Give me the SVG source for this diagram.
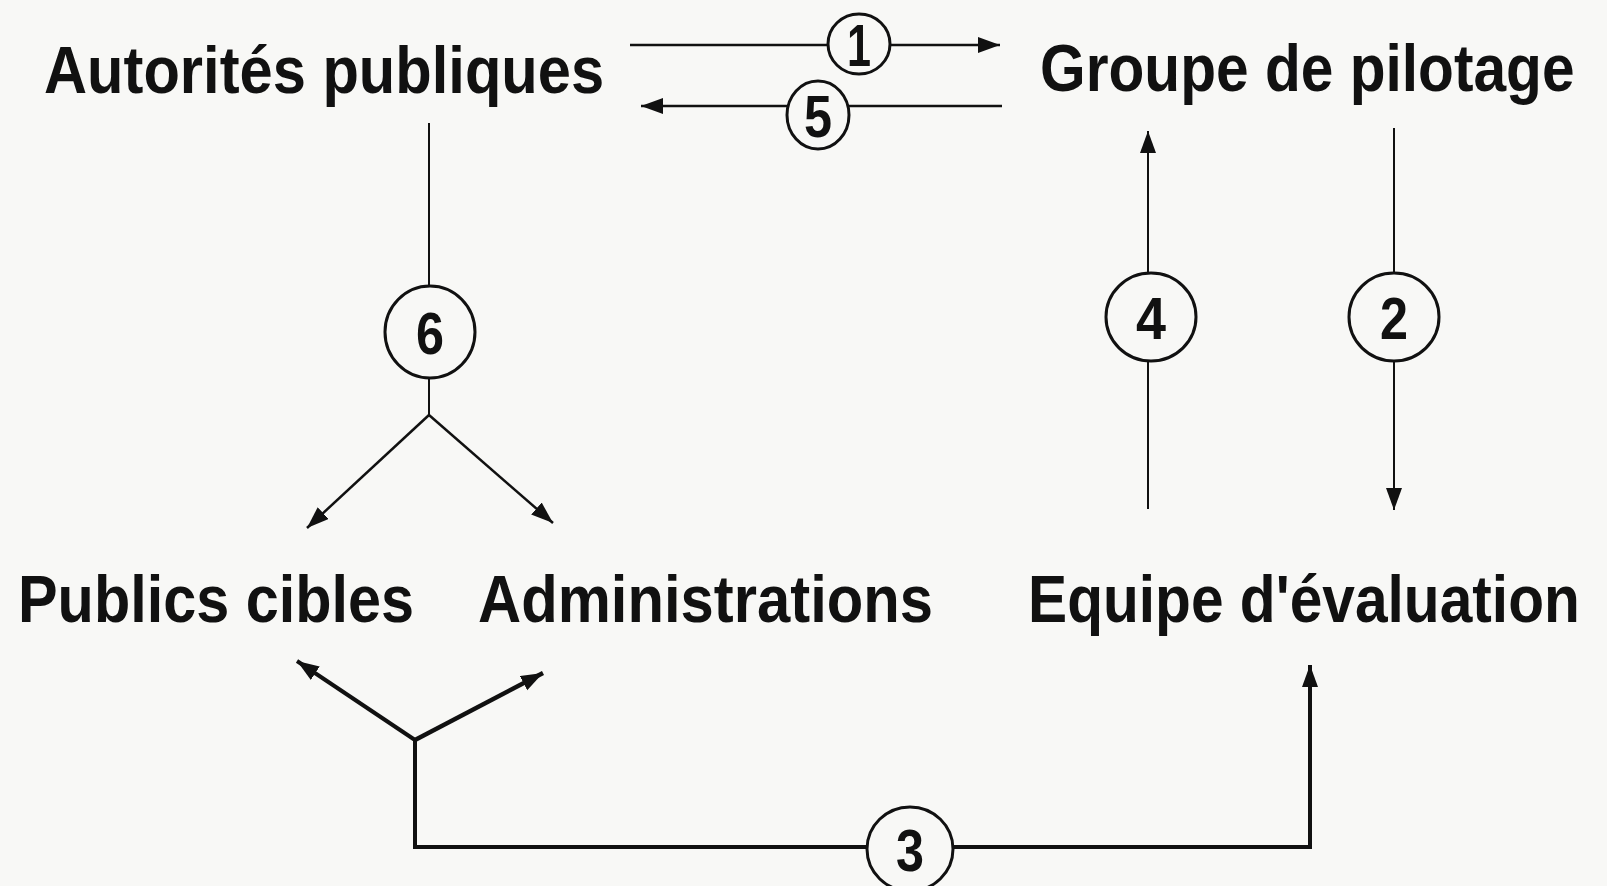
<svg xmlns="http://www.w3.org/2000/svg" width="1607" height="886" viewBox="0 0 1607 886">
<style>
.lbl{font-family:"Liberation Sans",Arial,sans-serif;font-weight:bold;font-size:66px;fill:#111}
.num{font-family:"Liberation Sans",Arial,sans-serif;font-weight:bold;font-size:60px;fill:#111;text-anchor:middle}
.c{fill:#f8f8f6;stroke:#111;stroke-width:3}
.ln{fill:none;stroke:#111;stroke-linecap:butt}
</style>
<defs>
<marker id="ah" markerUnits="userSpaceOnUse" markerWidth="24" markerHeight="18" refX="22" refY="8" orient="auto">
<path d="M0,0 L22,8 L0,16 z" fill="#111"/>
</marker>
</defs>
<rect width="1607" height="886" fill="#f8f8f6"/>
<g id="connectors">
<line class="ln" x1="630" y1="45" x2="1000" y2="45" stroke-width="2.5" marker-end="url(#ah)"/>
<line class="ln" x1="1002" y1="106" x2="641" y2="106" stroke-width="2.5" marker-end="url(#ah)"/>
<line class="ln" x1="429" y1="123" x2="429" y2="415" stroke-width="2"/>
<line class="ln" x1="429" y1="415" x2="307" y2="528" stroke-width="2.5" marker-end="url(#ah)"/>
<line class="ln" x1="429" y1="415" x2="553" y2="523" stroke-width="2.5" marker-end="url(#ah)"/>
<line class="ln" x1="1148" y1="509" x2="1148" y2="131" stroke-width="2" marker-end="url(#ah)"/>
<line class="ln" x1="1394" y1="128" x2="1394" y2="510" stroke-width="2" marker-end="url(#ah)"/>
<path class="ln" d="M415,740 V847 H1310 V665" stroke-width="4" marker-end="url(#ah)"/>
<line class="ln" x1="415" y1="740" x2="297" y2="661" stroke-width="4" marker-end="url(#ah)"/>
<line class="ln" x1="415" y1="740" x2="543" y2="673" stroke-width="4.5" marker-end="url(#ah)"/>
<g id="badges">
<ellipse class="c" cx="859" cy="44" rx="31" ry="30"/><text class="num" x="859" y="66" textLength="24" lengthAdjust="spacingAndGlyphs">1</text>
<ellipse class="c" cx="818" cy="115" rx="31" ry="34"/><text class="num" x="818" y="137" textLength="28" lengthAdjust="spacingAndGlyphs">5</text>
<ellipse class="c" cx="430" cy="332" rx="45" ry="46"/><text class="num" x="430" y="354" textLength="28" lengthAdjust="spacingAndGlyphs">6</text>
<ellipse class="c" cx="1151" cy="317" rx="45" ry="44"/><text class="num" x="1151" y="339" textLength="30" lengthAdjust="spacingAndGlyphs">4</text>
<ellipse class="c" cx="1394" cy="317" rx="45" ry="44"/><text class="num" x="1394" y="339" textLength="28" lengthAdjust="spacingAndGlyphs">2</text>
<ellipse class="c" cx="910" cy="849" rx="43" ry="42"/><text class="num" x="910" y="871" textLength="28" lengthAdjust="spacingAndGlyphs">3</text>
</g>
</g>
<g id="autorites"><text class="lbl" transform="translate(44,93) scale(0.904,1)">Autorités publiques</text></g>
<g id="groupe"><text class="lbl" transform="translate(1040,91) scale(0.889,1)">Groupe de pilotage</text></g>
<g id="publics"><text class="lbl" transform="translate(18,622) scale(0.9,1)">Publics cibles</text></g>
<g id="administrations"><text class="lbl" transform="translate(478,622) scale(0.906,1)">Administrations</text></g>
<g id="equipe"><text class="lbl" transform="translate(1028,622) scale(0.889,1)">Equipe d'évaluation</text></g>
</svg>
